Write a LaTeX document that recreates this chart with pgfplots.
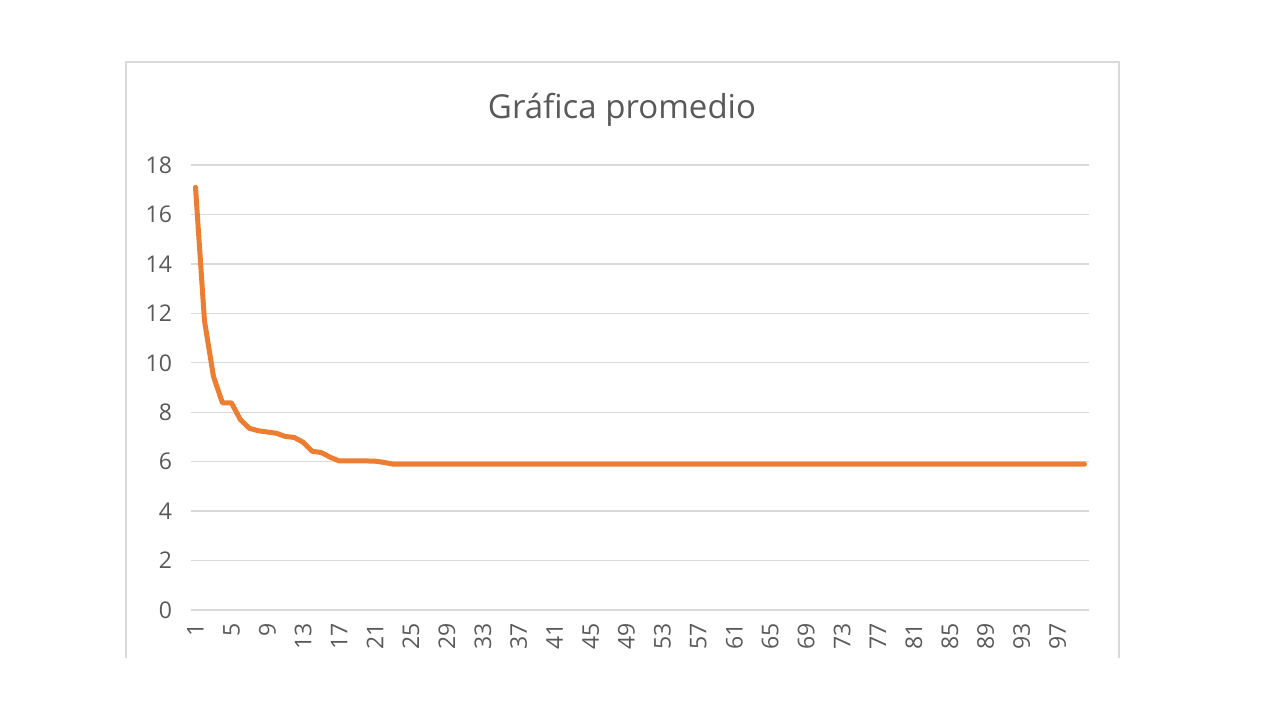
\documentclass[border=0pt]{standalone}
\usepackage{pgfplots}
\pgfplotsset{compat=1.18}
\usepackage{fontspec}
\setmainfont{Open Sans}
\definecolor{lineorange}{HTML}{ED7D31}
\definecolor{gridgray}{HTML}{D9D9D9}
\definecolor{textgray}{HTML}{595959}
\begin{document}
\begin{tikzpicture}
% slide background and chart frame (1px = 0.5pt)
\fill[white] (0,0) rectangle (640pt,360pt);
\draw[gridgray, line width=0.6pt] (63pt,31pt) -- (63pt,329pt) -- (559.5pt,329pt) -- (559.5pt,31pt);
\node[textgray, font=\fontsize{16.5}{20}\selectfont] at (311pt,305pt) {Gráfica promedio};
\begin{axis}[
    at={(95.5pt,55pt)}, anchor=south west,
    scale only axis, width=449pt, height=222.5pt,
    xmin=0.5, xmax=100.5, ymin=0, ymax=18,
    xtick={1,5,...,97}, ytick={0,2,...,18},
    axis line style={draw=none},
    major tick length=0pt,
    ymajorgrids, grid style={gridgray, line width=0.7pt},
    tick label style={textgray, font=\fontsize{11.5}{14}\selectfont},
    /pgf/number format/assume math mode=true,
    xticklabel style={rotate=90, anchor=east, xshift=-3pt},
    yticklabel style={xshift=-6pt},
    clip=false,
]
\addplot[lineorange, line width=2.5pt, line join=round, line cap=round] coordinates {
(1,17.1) (2,11.7) (3,9.45) (4,8.38) (5,8.38) (6,7.7) (7,7.35) (8,7.25) (9,7.2) (10,7.15)
(11,7.02) (12,6.98) (13,6.78) (14,6.42) (15,6.37) (16,6.18) (17,6.03) (18,6.03) (19,6.03) (20,6.03)
(21,6.02) (22,5.97) (23,5.9) (24,5.9) (25,5.9) (26,5.9) (27,5.9) (28,5.9) (29,5.9) (30,5.9)
(31,5.9) (32,5.9) (33,5.9) (34,5.9) (35,5.9) (36,5.9) (37,5.9) (38,5.9) (39,5.9) (40,5.9)
(41,5.9) (42,5.9) (43,5.9) (44,5.9) (45,5.9) (46,5.9) (47,5.9) (48,5.9) (49,5.9) (50,5.9)
(51,5.9) (52,5.9) (53,5.9) (54,5.9) (55,5.9) (56,5.9) (57,5.9) (58,5.9) (59,5.9) (60,5.9)
(61,5.9) (62,5.9) (63,5.9) (64,5.9) (65,5.9) (66,5.9) (67,5.9) (68,5.9) (69,5.9) (70,5.9)
(71,5.9) (72,5.9) (73,5.9) (74,5.9) (75,5.9) (76,5.9) (77,5.9) (78,5.9) (79,5.9) (80,5.9)
(81,5.9) (82,5.9) (83,5.9) (84,5.9) (85,5.9) (86,5.9) (87,5.9) (88,5.9) (89,5.9) (90,5.9)
(91,5.9) (92,5.9) (93,5.9) (94,5.9) (95,5.9) (96,5.9) (97,5.9) (98,5.9) (99,5.9) (100,5.9)
};
\end{axis}
\end{tikzpicture}
\end{document}
